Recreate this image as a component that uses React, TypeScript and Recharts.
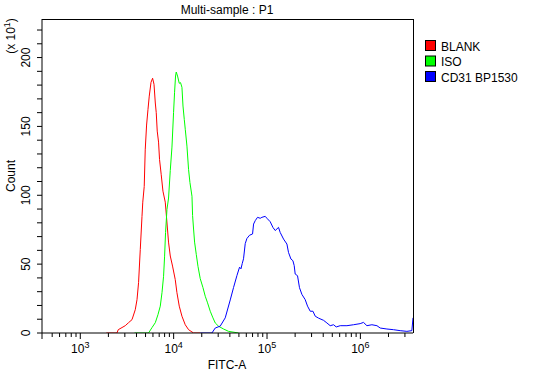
import * as React from 'react';
import { LineChart, Line, XAxis, YAxis } from 'recharts';

// BLANK (red)
const blankX = [1900, 2470, 2550, 3030, 3290, 3580, 3880, 4050, 4210, 4390, 4580, 4670, 4840, 4960, 5130, 5310, 5480, 5720, 5950, 6160, 6360, 6510, 6670, 6890, 7060, 7360, 7680, 8130, 8470, 8810, 9200, 9730, 10400, 10840, 11480, 12270, 13310, 14450, 16340, 19260];
const blankCount = [0, 0, 2.4, 5.3, 7.5, 9.7, 16.9, 24.2, 36.6, 60.6, 84.6, 95, 106.4, 133, 151, 162.4, 172, 182, 185, 180.6, 167, 160, 146.6, 138.6, 126, 114.9, 103, 95, 80.6, 66, 55.9, 48.6, 38.8, 29.3, 19.5, 12.2, 6.0, 2.4, 0, 0];

// ISO (green)
const isoX = [3810, 5380, 5860, 6360, 6790, 7190, 7500, 7800, 8000, 8190, 8480, 8820, 9200, 9590, 9980, 10230, 10480, 10660, 11010, 11480, 11850, 12270, 12590, 13000, 13320, 13880, 14440, 14940, 15710, 15950, 16340, 16760, 17480, 18220, 19260, 20590, 21790, 23070, 24650, 26350, 27890, 30270, 34230, 38730, 49560];
const isoCount = [0, 0, 3.9, 7.5, 13.3, 19.5, 29.3, 41.2, 55.8, 73, 89.7, 98, 118, 135, 160.2, 174.8, 186.6, 189.5, 186.6, 181.3, 181.8, 178.4, 164.8, 155, 147.9, 135.7, 118.8, 109.3, 99.3, 85.3, 75.5, 66, 56.9, 48.4, 39.5, 33, 26.7, 21.9, 15.8, 11, 7.3, 4.9, 2.9, 1.2, 0];

// CD31 BP1530 (blue)
const cd31X = [19260, 25700, 27870, 31540, 35680, 40370, 43790, 47610, 50800, 52610, 54250, 56020, 58420, 60890, 65010, 69990, 71780, 74820, 79120, 84560, 88180, 95680, 99730, 108200, 115600, 122400, 132800, 138400, 150300, 163300, 169900, 180300, 189300, 195500, 200300, 212200, 222700, 236500, 256500, 271600, 290300, 310400, 328300, 356300, 403200, 437800, 475000, 515700, 551000, 608000, 717600, 844000, 995000, 1080000, 1174000, 1328000, 1504000, 1631000, 1923000, 2264000, 2669000, 3146000, 3558000, 3660000];
const cd31Count = [0, 0, 3.6, 5, 11, 24, 33, 41.7, 47.8, 46.6, 50.4, 53.9, 64.9, 68.6, 71, 71.9, 79.1, 81.6, 84, 83.3, 84, 84.7, 83.3, 80.8, 76.7, 74.4, 76.7, 73, 68.2, 64.6, 58.5, 53.7, 52.5, 48.9, 42.8, 41.6, 32.9, 28, 24.2, 19.5, 15.8, 15.8, 12.2, 10.8, 9.2, 7.3, 5.3, 6.0, 4.4, 5.3, 5.3, 6.0, 6.8, 7.7, 5.3, 6.0, 5.3, 3.6, 2.9, 2.4, 1.7, 1.2, 1.7, 11];

const seriesNames = ['BLANK', 'ISO', 'CD31 BP1530'];
const seriesColors = ['#ff0000', '#00ff00', '#0000ff'];

const xMajorTicks = [1000, 10000, 100000, 1000000];
const xMinorTicks = [500, 600, 700, 800, 900, 2000, 3000, 4000, 5000, 6000, 7000, 8000, 9000,
    20000, 30000, 40000, 50000, 60000, 70000, 80000, 90000,
    200000, 300000, 400000, 500000, 600000, 700000, 800000, 900000, 2000000, 3000000];
const xDomain = [389, 3660000];
const yTicks = [0, 10, 20, 30, 40, 50, 60, 70, 80, 90, 100, 110, 120, 130, 140, 150, 160, 170, 180, 190, 200, 210, 220];
const yLabelTicks = [0, 50, 100, 150, 200];
const yDomain = [0, 228];

const toRows = (xs: number[], ys: number[]) => xs.map((x, i) => ({ x, count: ys[i] }));
const seriesData = [toRows(blankX, blankCount), toRows(isoX, isoCount), toRows(cd31X, cd31Count)];

const FONT = '"Liberation Sans", Arial, sans-serif';

const XTick = (props: any) => {
    const { x, y, payload } = props;
    const v = payload.value;
    const major = xMajorTicks.indexOf(v) >= 0;
    return (
        <g>
            <line x1={x} y1={y} x2={x} y2={y + (major ? 6 : 4)} stroke="#000" />
            {major && (
                <text x={x} y={y + 20} textAnchor="middle" fontSize={12} fontFamily={FONT} fill="#000">
                    10<tspan dy={-5} fontSize={9}>{Math.round(Math.log10(v))}</tspan>
                </text>
            )}
        </g>
    );
};

const YTick = (props: any) => {
    const { x, y, payload } = props;
    const v = payload.value;
    return (
        <g>
            <line x1={x - 5} y1={y} x2={x} y2={y} stroke="#000" />
            {yLabelTicks.indexOf(v) >= 0 && (
                <text x={x - 12} y={y} transform={`rotate(-90 ${x - 12} ${y})`} textAnchor="middle"
                    fontSize={12} fontFamily={FONT} fill="#000">{v}</text>
            )}
        </g>
    );
};

export default function App() {
    return (
        <div style={{ position: 'absolute', left: 0, top: 0, width: 551, height: 372, background: '#fff' }}>
            <LineChart width={551} height={372} margin={{ top: 19, right: 138, bottom: 0, left: 0 }}>
                <XAxis dataKey="x" type="number" scale="log" domain={xDomain} allowDataOverflow
                    ticks={[...xMinorTicks, ...xMajorTicks]} interval={0} tick={<XTick />}
                    tickLine={false} tickSize={0} tickMargin={0} height={39}
                    axisLine={{ stroke: '#000' }} />
                <YAxis type="number" domain={yDomain} allowDataOverflow ticks={yTicks} interval={0}
                    tick={<YTick />} tickLine={false} tickSize={0} tickMargin={0} width={42}
                    axisLine={{ stroke: '#000' }} />
                {seriesData.map((d, i) => (
                    <Line key={seriesNames[i]} data={d} dataKey="count" name={seriesNames[i]} type="linear"
                        stroke={seriesColors[i]} strokeWidth={1} dot={false} activeDot={false}
                        isAnimationActive={false} />
                ))}
            </LineChart>
            <svg width={551} height={372} style={{ position: 'absolute', left: 0, top: 0, pointerEvents: 'none' }}>
                {/* frame */}
                <line x1={42} y1={19.5} x2={413.5} y2={19.5} stroke="#000" />
                <line x1={413.5} y1={19} x2={413.5} y2={333} stroke="#000" />
                <line x1={42} y1={333} x2={42} y2={339} stroke="#000" />
                <text x={227} y={14} textAnchor="middle" fontSize={12} fontFamily={FONT}>Multi-sample : P1</text>
                <text x={227} y={369} textAnchor="middle" fontSize={12} fontFamily={FONT}>FITC-A</text>
                <text x={15} y={176} transform="rotate(-90 15 176)" textAnchor="middle" fontSize={12} fontFamily={FONT}>Count</text>
                <text x={15} y={36} transform="rotate(-90 15 36)" textAnchor="middle" fontSize={12} fontFamily={FONT}>
                    (x 10<tspan dy={-5} fontSize={9}>1</tspan><tspan dy={5}>)</tspan>
                </text>
                {seriesNames.map((n, i) => (
                    <g key={n}>
                        <rect x={425.5} y={40.5 + i * 15.5} width={10} height={10} fill={seriesColors[i]} stroke="#000" />
                        <text x={441} y={50.5 + i * 15.5} fontSize={12} fontFamily={FONT}>{n}</text>
                    </g>
                ))}
            </svg>
        </div>
    );
}
